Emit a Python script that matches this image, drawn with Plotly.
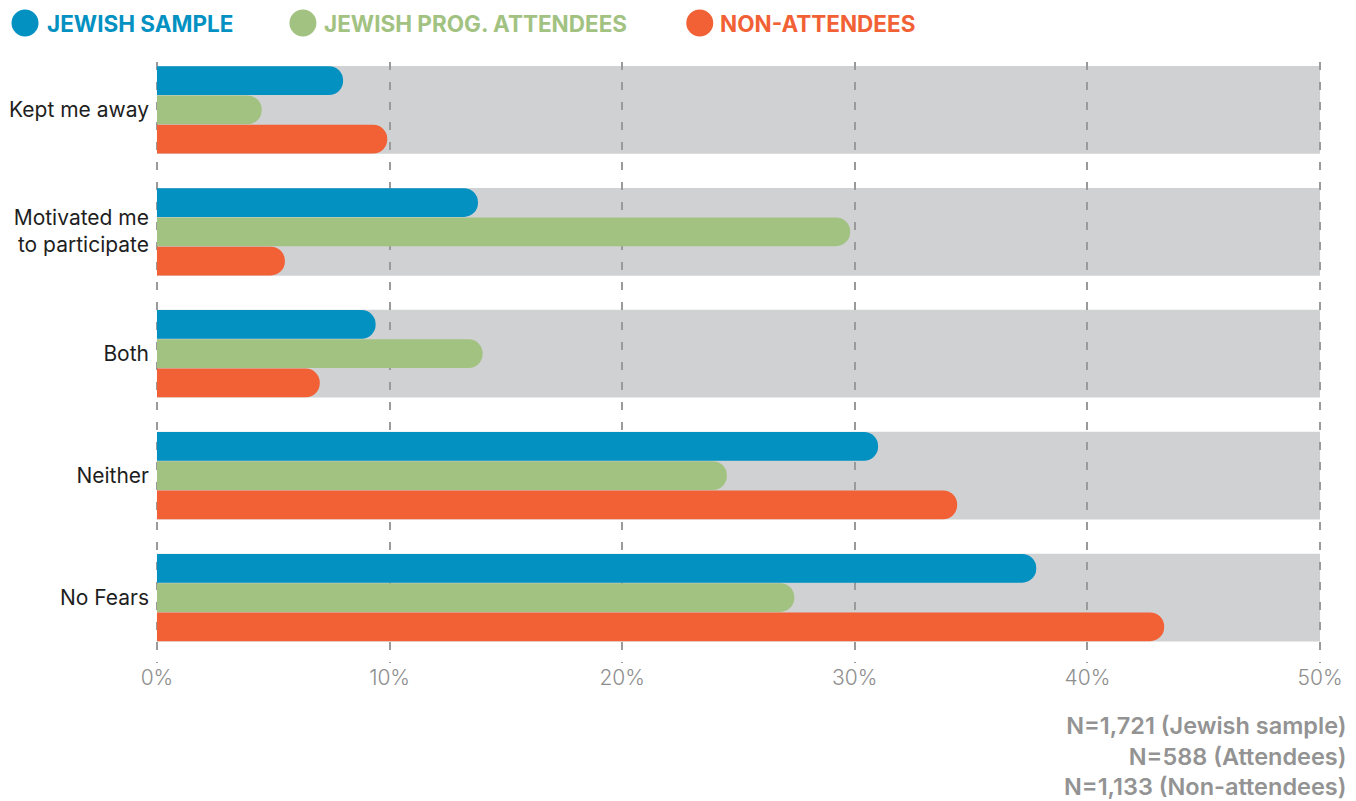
import plotly.graph_objects as go

# ---- data ----
categories = ["Kept me away", "Motivated me<br>to participate", "Both", "Neither", "No Fears"]
series_names = ["JEWISH SAMPLE", "JEWISH PROG. ATTENDEES", "NON-ATTENDEES"]
jewish_sample = [8.0, 13.8, 9.4, 31.0, 37.8]
prog_attendees = [4.5, 29.8, 14.0, 24.5, 27.4]
non_attendees = [9.9, 5.5, 7.0, 34.4, 43.3]
x_tick_vals = [0, 10, 20, 30, 40, 50]
x_tick_text = ["0%", "10%", "20%", "30%", "40%", "50%"]
band_max = 50
footnote_lines = ["N=1,721 (Jewish sample)", "N=588 (Attendees)", "N=1,133 (Non-attendees)"]

colors = ["#0391C2", "#A2C282", "#F26135"]
values = [jewish_sample, prog_attendees, non_attendees]
offsets = [-0.355, -0.115, 0.125]
BAR_W = 0.236
FONT = "Inter"

fig = go.Figure()
for name, vals, col, off in zip(series_names, values, colors, offsets):
    fig.add_trace(go.Bar(
        y=categories, x=vals, orientation="h", name=name,
        marker=dict(color=col, line=dict(width=0)),
        width=BAR_W, offset=off, showlegend=False, hoverinfo="x+y",
    ))

shapes = []
# grey background bands per category
for i, _ in enumerate(categories):
    shapes.append(dict(type="rect", xref="x", yref="y", x0=0, x1=band_max,
                       y0=i - 0.357, y1=i + 0.363, fillcolor="#D0D1D3",
                       line=dict(width=0), layer="below"))

# layout geometry (pixels): 0% at x=157, 50% at x=1320.5
PX_PER_UNIT = 1163.5 / 50
PAD = 0.3  # axis padding (data units) so the edge gridlines are drawn
L = 157 - PAD * PX_PER_UNIT
W = (50 + 2 * PAD) * PX_PER_UNIT
T, H = 62, 601
def px_x(p):
    return (p - L) / W
def px_y(p):
    return (T + H - p) / H

legend_items = [(25, 45), (303, 322), (700, 718)]
annotations = []
for (cx, tx), name, col in zip(legend_items, series_names, colors):
    shapes.append(dict(type="circle", xref="paper", yref="paper",
                       xsizemode="pixel", ysizemode="pixel",
                       xanchor=px_x(cx), yanchor=px_y(23),
                       x0=-13.5, x1=13.5, y0=-13.5, y1=13.5,
                       fillcolor=col, line=dict(width=0), layer="above"))
    annotations.append(dict(xref="paper", yref="paper", x=px_x(tx), y=px_y(23),
                            xanchor="left", yanchor="middle", showarrow=False,
                            text="<b>" + name + "</b>",
                            font=dict(family=FONT, size=22.5, color=col)))

annotations.append(dict(xref="paper", yref="paper", x=px_x(1349), y=px_y(756),
                        xanchor="right", yanchor="middle", align="right",
                        showarrow=False, text="<br>".join(footnote_lines),
                        font=dict(family=FONT, size=23.5, color="#939393", weight=600)))

fig.update_layout(
    width=1356, height=801,
    margin=dict(l=L, r=1356 - L - W, t=T, b=801 - T - H, autoexpand=False),
    paper_bgcolor="white", plot_bgcolor="white",
    barmode="overlay", barcornerradius=15,
    showlegend=False,
    shapes=shapes, annotations=annotations,
    font=dict(family=FONT),
    xaxis=dict(range=[-PAD, 50 + PAD], tickvals=x_tick_vals, ticktext=x_tick_text,
               showgrid=True, gridcolor="#9A9A9A", gridwidth=1.5, griddash="8px,12px",
               zeroline=False, showline=False, ticks="",
               tickfont=dict(family=FONT, size=21, color="#8E8E8E", weight=300),
               fixedrange=True),
    yaxis=dict(range=[4.54, -0.39], type="category", showgrid=False, zeroline=False,
               ticks="", ticklabelstandoff=0,
               tickfont=dict(family=FONT, size=21, color="#1E1E1E"), fixedrange=True),
)

fig.write_html("out.html", config={"displayModeBar": False},
               post_script="document.body.style.margin='0px';document.body.style.overflow='hidden';")
